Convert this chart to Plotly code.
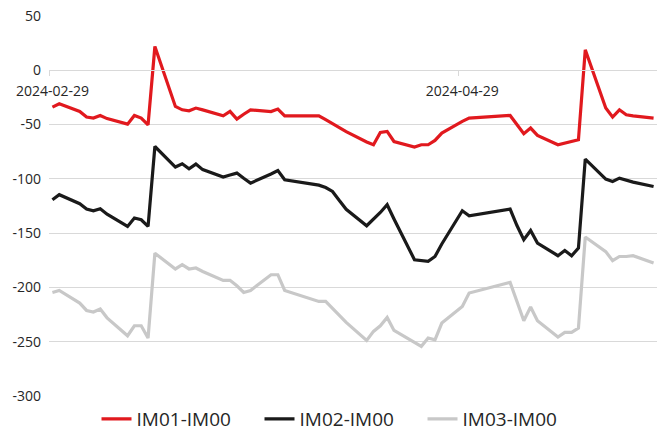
import plotly.graph_objects as go

dates = [
    "2024-02-29", "2024-03-01", "2024-03-04", "2024-03-05", "2024-03-06", "2024-03-07", "2024-03-08",
    "2024-03-11", "2024-03-12", "2024-03-13", "2024-03-14", "2024-03-15",
    "2024-03-18", "2024-03-19", "2024-03-20", "2024-03-21", "2024-03-22",
    "2024-03-25", "2024-03-26", "2024-03-27", "2024-03-28", "2024-03-29",
    "2024-04-01", "2024-04-02", "2024-04-03",
    "2024-04-08", "2024-04-09", "2024-04-10", "2024-04-11", "2024-04-12",
    "2024-04-15", "2024-04-16", "2024-04-17", "2024-04-18", "2024-04-19",
    "2024-04-22", "2024-04-23", "2024-04-24", "2024-04-25", "2024-04-26",
    "2024-04-29", "2024-04-30",
    "2024-05-06", "2024-05-07", "2024-05-08", "2024-05-09", "2024-05-10",
    "2024-05-13", "2024-05-14", "2024-05-15", "2024-05-16", "2024-05-17",
    "2024-05-20", "2024-05-21", "2024-05-22", "2024-05-23", "2024-05-24",
    "2024-05-27",
]

im01_im00 = [
    -33.9, -30.8, -37.9, -43.1, -44.0, -41.6, -44.5,
    -49.6, -41.6, -44.0, -50.2, 21.9,
    -33.3, -36.4, -37.3, -34.8, -36.5,
    -41.9, -37.9, -45.0, -40.5, -36.4,
    -38.0, -35.7, -41.9,
    -41.9, -45.5, -49.3, -52.5, -56.5,
    -66.0, -68.6, -57.3, -56.3, -65.6,
    -70.7, -68.6, -68.6, -64.6, -57.8,
    -47.1, -44.0,
    -41.6, -50.0, -58.5, -53.2, -60.0,
    -68.6, -67.0, -65.5, -64.0, 18.9,
    -34.8, -43.1, -36.4, -41.0, -42.0,
    -44.0,
]

im02_im00 = [
    -119.2, -114.6, -122.9, -127.8, -129.4, -127.5, -132.5,
    -143.8, -136.1, -137.7, -143.8, -70.2,
    -89.1, -86.1, -90.7, -86.4, -91.5,
    -98.3, -96.5, -94.7, -99.5, -103.9,
    -95.5, -92.3, -100.8,
    -105.8, -108.0, -111.6, -120.0, -128.0,
    -143.2, -137.5, -131.0, -123.8, -137.0,
    -174.5, -175.5, -176.0, -171.5, -160.0,
    -129.4, -134.0,
    -127.8, -143.0, -156.0, -147.5, -159.1,
    -170.8, -165.9, -170.8, -163.7, -81.8,
    -100.2, -102.4, -99.3, -101.0, -103.0,
    -107.0,
]

im03_im00 = [
    -204.6, -202.8, -214.4, -221.2, -222.7, -219.9, -228.0,
    -244.5, -235.3, -235.3, -246.6, -168.5,
    -183.0, -179.1, -183.0, -182.1, -185.3,
    -193.5, -193.5, -198.5, -204.6, -202.8,
    -188.3, -188.3, -202.8,
    -212.9, -212.9, -219.0, -226.0, -232.2,
    -248.8, -240.5, -235.3, -227.6, -239.6,
    -250.8, -254.3, -246.6, -248.2, -232.8,
    -217.5, -205.2,
    -195.4, -213.0, -230.7, -218.1, -230.7,
    -245.7, -241.4, -241.4, -237.4, -153.6,
    -167.0, -175.4, -171.5, -171.5, -170.8,
    -177.5,
]

series_names = ["IM01-IM00", "IM02-IM00", "IM03-IM00"]
series_colors = ["#E1191E", "#1A1A1A", "#C8C8C8"]

x_tick_vals = ["2024-02-29", "2024-04-29"]
x_tick_text = ["2024-02-29", "2024-04-29"]
x_minor_ticks = ["2024-02-28 12:00", "2024-04-28 12:00"]
y_tick_vals = [50, 0, -50, -100, -150, -200, -250, -300]
y_tick_text = ["50", "0", "-50", "-100", "-150", "-200", "-250", "-300"]

fig = go.Figure()
for name, ys, col in zip(series_names, [im01_im00, im02_im00, im03_im00], series_colors):
    fig.add_trace(go.Scatter(x=dates, y=ys, mode="lines", name=name,
                             line=dict(color=col, width=3.2)))

font_family = "Open Sans, Noto Sans, sans-serif"
fig.update_layout(
    width=661, height=432,
    margin=dict(l=49, r=4, t=16, b=36, autoexpand=False),
    paper_bgcolor="white", plot_bgcolor="white",
    font=dict(family=font_family, size=14, color="#262626"),
    showlegend=True,
    legend=dict(orientation="h", xref="container", yref="container",
                x=0.146, xanchor="left", y=1 - 419 / 432, yanchor="middle",
                entrywidth=118, entrywidthmode="pixels",
                font=dict(size=19, color="#262626"),
                itemwidth=30, tracegroupgap=0),
)
fig.update_xaxes(
    type="date", automargin=False,
    range=["2024-02-28 12:00", "2024-05-27 12:00"],
    showgrid=False, zeroline=False,
    showline=True, linecolor="#D9D9D9", linewidth=1,
    anchor="free", position=300 / 350,
    tickmode="array", tickvals=x_tick_vals, ticktext=x_tick_text,
    ticks="", tickfont=dict(size=14, color="#262626"),
    ticklabelstandoff=8,
    minor=dict(tickmode="array", tickvals=x_minor_ticks, ticks="outside",
               ticklen=5, tickcolor="#D9D9D9", showgrid=False),
)
fig.update_yaxes(
    range=[-300, 50], automargin=False,
    tickmode="array", tickvals=y_tick_vals, ticktext=y_tick_text,
    showgrid=True, gridcolor="#D9D9D9", gridwidth=1,
    zeroline=False, showline=False, ticks="",
    tickfont=dict(size=14, color="#262626"),
    ticklabelstandoff=7,
)

fig.write_html("out.html", config={"displayModeBar": False},
               post_script="document.body.style.margin='0';document.body.style.overflow='hidden';")
